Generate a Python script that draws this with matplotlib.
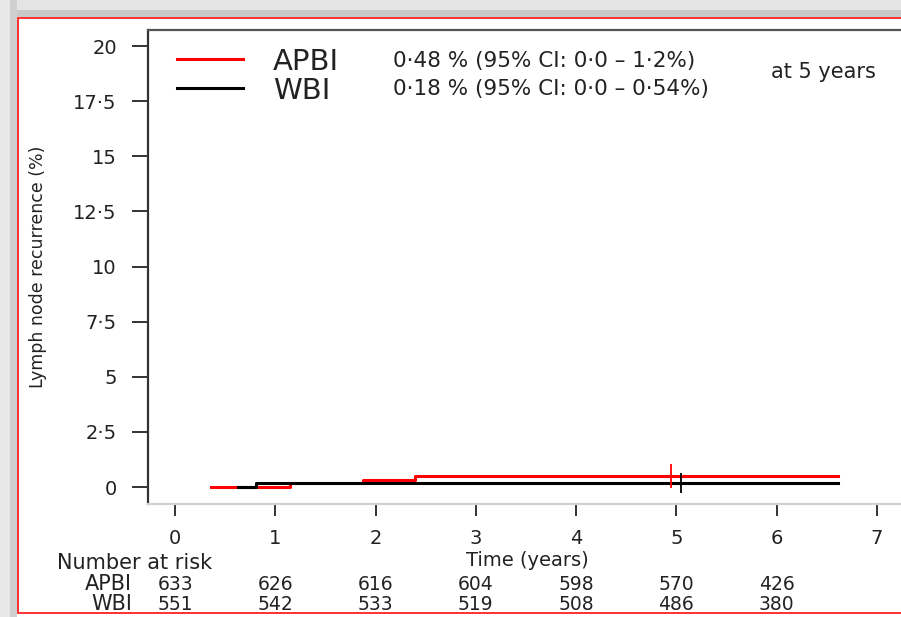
import matplotlib
matplotlib.use("Agg")
import matplotlib.pyplot as plt
from matplotlib.patches import Rectangle
from matplotlib.transforms import blended_transform_factory

plt.rcParams['font.family'] = ['DejaVu Sans']

# Cumulative incidence of lymph node recurrence (%), drawn as step curves
apbi_time = [0.36, 1.15, 1.87, 2.39, 6.61]
apbi_pct = [0.0, 0.16, 0.32, 0.48, 0.48]
wbi_time = [0.63, 0.81, 6.61]
wbi_pct = [0.0, 0.18, 0.18]

# 5-year estimate markers on each curve
apbi_mark_t, apbi_mark_pct = 4.95, 0.48
wbi_mark_t, wbi_mark_pct = 5.05, 0.18

groups = ["APBI", "WBI"]
ci_labels = ["0·48 % (95% CI: 0·0 – 1·2%)", "0·18 % (95% CI: 0·0 – 0·54%)"]

x_ticks = [0, 1, 2, 3, 4, 5, 6, 7]
y_ticks = [0, 2.5, 5, 7.5, 10, 12.5, 15, 17.5, 20]
y_tick_labels = ["0", "2·5", "5", "7·5", "10", "12·5", "15", "17·5", "20"]

risk_years = [0, 1, 2, 3, 4, 5, 6]
apbi_risk = [633, 626, 616, 604, 598, 570, 426]
wbi_risk = [551, 542, 533, 519, 508, 486, 380]

W, H = 901, 617
fig = plt.figure(figsize=(W / 100, H / 100), dpi=100)
fig.patch.set_facecolor("white")


def fx(px):
    return px / W


def fy(py):
    return 1 - py / H


# slide frame: soft grey shadow band on the top and left, red outline
shadow = [((0, fy(17)), 1, 17 / H, "#e4e4e4"),
          ((0, fy(17)), 1, 7 / H, "#c8c8c8"),
          ((0, 0), fx(17), 1, "#e8e8e8"),
          ((fx(10), 0), fx(7), 1, "#d0d0d0")]
for xy, w, h, c in shadow:
    fig.add_artist(Rectangle(xy, w, h, transform=fig.transFigure,
                             facecolor=c, edgecolor="none", zorder=-3))
fig.add_artist(Rectangle((fx(17.5), fy(613)), fx(905) - fx(17.5), fy(18) - fy(613),
                         transform=fig.transFigure, facecolor="white",
                         edgecolor="#ff2020", linewidth=1.3, zorder=-2))

ax = fig.add_axes([fx(148), fy(504), fx(930) - fx(148), fy(30) - fy(504)])
ax.set_facecolor("none")
ax.set_xlim(-0.27, 7.53)
ax.set_ylim(-0.77, 20.73)

line_apbi, = ax.step(apbi_time, apbi_pct, where="post", color="#ff0000",
                     lw=2.2, zorder=3)
line_wbi, = ax.step(wbi_time, wbi_pct, where="post", color="black",
                    lw=2.2, zorder=4)
ax.plot([apbi_mark_t], [apbi_mark_pct], marker="|", ms=17, mew=1.3,
        color="#ff0000", zorder=5)
ax.plot([wbi_mark_t], [wbi_mark_pct], marker="|", ms=14, mew=1.3,
        color="black", zorder=5)

ax.set_xticks(x_ticks)
ax.set_xticklabels([str(t) for t in x_ticks])
ax.set_yticks(y_ticks)
ax.set_yticklabels(y_tick_labels)
ax.tick_params(axis="x", length=8.6, width=1.4, pad=9.5, labelsize=14,
               color="#333333", labelcolor="#222222")
ax.tick_params(axis="y", length=11.5, width=1.4, pad=11, labelsize=14,
               color="#333333", labelcolor="#222222")

ax.spines["right"].set_visible(False)
ax.spines["left"].set_color("#333333")
ax.spines["left"].set_linewidth(1.6)
ax.spines["top"].set_color("#555555")
ax.spines["top"].set_linewidth(1.6)
ax.spines["bottom"].set_color("#d2d2d2")
ax.spines["bottom"].set_linewidth(1.6)

ax.set_ylabel("Lymph node recurrence (%)", fontsize=12.5, color="#222222",
              va="center", ha="center")
ax.yaxis.set_label_coords((38 - 148) / (930 - 148), 0.5)
ax.set_xlabel("Time (years)", fontsize=14, color="#222222", va="baseline")
ax.xaxis.set_label_coords((527 - 148) / (930 - 148), (504 - 566) / (504 - 30))

# legend with group names, then the 5-year estimates beside it
leg = ax.legend([line_apbi, line_wbi], groups, loc="upper left",
                bbox_to_anchor=(fx(177), fy(47.5)), bbox_transform=fig.transFigure,
                fontsize=21, frameon=False, borderpad=0, borderaxespad=0,
                handlelength=2.26, handletextpad=1.03, labelspacing=0.04)
for t in leg.get_texts():
    t.set_color("#222222")

for i, lab in enumerate(ci_labels):
    fig.text(fx(393), fy([67.5, 94.5][i]), lab, fontsize=15.5, color="#222222",
             ha="left", va="baseline")
fig.text(fx(771), fy(78), "at 5 years", fontsize=15, color="#222222",
         ha="left", va="baseline")

# number-at-risk table beneath the time axis
risk_tr = blended_transform_factory(ax.transData, fig.transFigure)
fig.text(fx(57), fy(569), "Number at risk", fontsize=15, color="#222222",
         ha="left", va="baseline")
for name, counts, base in [(groups[0], apbi_risk, 590), (groups[1], wbi_risk, 610.5)]:
    fig.text(fx(132), fy(base), name, fontsize=15, color="#222222",
             ha="right", va="baseline")
    for yr, n in zip(risk_years, counts):
        ax.text(yr, fy(base), str(n), transform=risk_tr, fontsize=13.5,
                color="#222222", ha="center", va="baseline", clip_on=False)

fig.savefig("out.png", dpi=100)
